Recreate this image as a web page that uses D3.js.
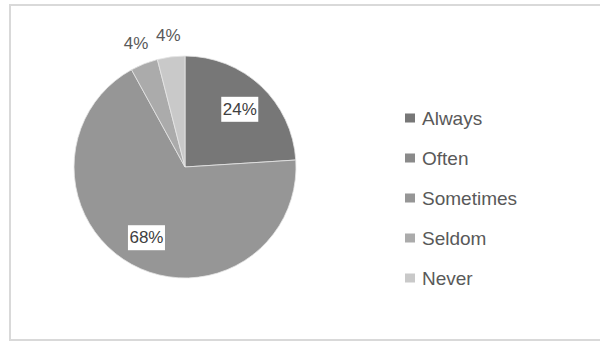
<!DOCTYPE html>
<html>
<head>
<meta charset="utf-8">
<script src="https://cdn.jsdelivr.net/npm/d3@7"></script>
<style>
  body { margin: 0; background: #fff; }
  svg { display: block; font-family: "Liberation Sans", Arial, sans-serif; }
</style>
</head>
<body>
<div id="chart"></div>
<script>
// survey answers, share of respondents (%)
const categories = ["Always", "Often", "Sometimes", "Seldom", "Never"];
const values = [24, 0, 68, 4, 4];
const colors = ["#777777", "#8a8a8a", "#969696", "#ababab", "#c9c9c9"];

const width = 600, height = 342;
const cx = 185, cy = 167, radius = 111;

const svg = d3.select("#chart").append("svg")
    .attr("width", width)
    .attr("height", height);

// outer frame
svg.append("rect")
    .attr("x", 10).attr("y", 5)
    .attr("width", 600).attr("height", 335)
    .attr("fill", "#fff")
    .attr("stroke", "#d9d9d9")
    .attr("stroke-width", 2);

const data = categories.map((c, i) => ({ cat: c, value: values[i] }));

const color = d3.scaleOrdinal().domain(categories).range(colors);

const pie = d3.pie().sort(null).value(d => d.value);
const arcs = pie(data);

const arc = d3.arc().innerRadius(0).outerRadius(radius);
const inLabel = d3.arc().innerRadius(80).outerRadius(80);
const outLabel = d3.arc().innerRadius(133).outerRadius(133);

const g = svg.append("g").attr("transform", `translate(${cx},${cy})`);

g.selectAll("path.slice")
    .data(arcs.filter(d => d.data.value > 0))
    .enter()
    .append("path")
    .attr("class", "slice")
    .attr("d", arc)
    .attr("fill", d => color(d.data.cat))
    .attr("stroke", "#e6e6e6")
    .attr("stroke-width", 0.8);

// labels: big slices inside with a white box, small ones outside
const labels = g.selectAll("g.lbl")
    .data(arcs.filter(d => d.data.value > 0))
    .enter()
    .append("g")
    .attr("class", "lbl")
    .attr("transform", d => {
        const p = d.data.value > 10 ? inLabel.centroid(d) : outLabel.centroid(d);
        return `translate(${p[0]},${p[1]})`;
    });

labels.append("text")
    .attr("text-anchor", "middle")
    .attr("dy", "0.36em")
    .attr("font-size", 17)
    .attr("fill", d => d.data.value > 10 ? "#404040" : "#595959")
    .text(d => d.data.value + "%");

labels.filter(d => d.data.value > 10).each(function () {
    const grp = d3.select(this);
    const bb = grp.select("text").node().getBBox();
    grp.insert("rect", "text")
        .attr("x", bb.x - 1.5)
        .attr("y", bb.y - 3)
        .attr("width", bb.width + 3)
        .attr("height", bb.height + 6)
        .attr("fill", "#fff");
});

// legend
const ly = d3.scalePoint().domain(categories).range([118, 278]);

const legend = svg.append("g").selectAll("g")
    .data(categories)
    .enter()
    .append("g")
    .attr("transform", d => `translate(405,${ly(d)})`);

legend.append("rect")
    .attr("x", 0).attr("y", -4.5)
    .attr("width", 10).attr("height", 9)
    .attr("fill", d => color(d));

legend.append("text")
    .attr("x", 17)
    .attr("dy", "0.36em")
    .attr("font-size", 19)
    .attr("fill", "#595959")
    .text(d => d);
</script>
</body>
</html>
